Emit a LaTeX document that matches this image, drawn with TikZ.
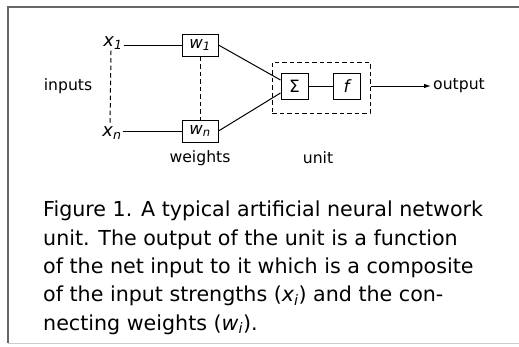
\documentclass[tikz,border=0pt]{standalone}
\usepackage{fontspec}
\setmainfont{DejaVu Sans}
\usetikzlibrary{arrows.meta}
\begin{document}
\begin{tikzpicture}[x=1bp,y=-1bp,
  lbl/.style={inner sep=0pt,font=\fontsize{15.7}{18}\selectfont},
  var/.style={inner sep=1pt,font=\fontsize{18}{20}\selectfont\itshape},
  wbox/.style={draw,line width=1bp,minimum width=36bp,minimum height=22bp,inner sep=0pt,font=\fontsize{16.5}{18}\selectfont\itshape},
  ubox/.style={draw,line width=1bp,minimum width=27bp,minimum height=26bp,inner sep=0pt,font=\fontsize{17}{18}\selectfont},
  conn/.style={line width=1bp},
  dline/.style={line width=1bp,dash pattern=on 4.5bp off 3bp},
  captxt/.style={anchor=base west,inner sep=0pt,font=\fontsize{20.7}{24}\selectfont},
  framestyle/.style={line width=1.8bp,draw=black!60}]
\useasboundingbox (0,0) rectangle (519,346);
% frame
\draw[framestyle] (519,7) -- (8,7) -- (8,343);
\draw[line width=1bp,draw=black!20] (8,343) -- (519,343);
% inputs
\node[var] (x1) at (113,43) {x\textsubscript{1}};
\node[var] (xn) at (112,133) {x\textsubscript{n}};
\node[lbl] (inputs) at (68,86) {inputs};
% weights
\node[wbox] (w1) at (200,45) {w\textsubscript{1}};
\node[wbox] (wn) at (200,131) {w\textsubscript{n}};
\node[lbl] (weights) at (200,158) {weights};
% unit
\node[draw,dline,minimum width=98bp,minimum height=51bp,inner sep=0pt] (unit) at (321,87.5) {};
\node[ubox] (sigma) at (294.5,86) {Σ};
\node[ubox,font=\fontsize{17}{18}\selectfont\itshape] (f) at (346.5,86) {f};
\node[lbl] (unitlbl) at (318,158) {unit};
\node[lbl,anchor=west] (output) at (433,86) {output};
% connectors
\draw[conn] (x1.east |- w1) -- (w1.west);
\draw[conn] (xn.east |- wn) -- (wn.west);
\draw[dline] ([xshift=-2bp]x1.south) -- ([xshift=-2bp]xn.north);
\draw[dline] (w1.south) -- (wn.north);
\draw[conn] (w1.east) -- ([yshift=6bp]sigma.west);
\draw[conn] (wn.east) -- ([yshift=-7bp]sigma.west);
\draw[conn] (sigma) -- (f);
\draw[conn,-{Latex[length=7bp,width=4.5bp]},shorten >=2bp] (unit.east |- sigma) -- (output.west);
% caption
\node[captxt] (c1) at (43,216.5) {Figure 1. A typical artificial neural network};
\node[captxt] (c2) at (43,245) {unit. The output of the unit is a function};
\node[captxt] (c3) at (43,273.3) {of the net input to it which is a composite};
\node[captxt] (c4) at (43,301.6) {of the input strengths (\textit{x\textsubscript{i}}) and the con-};
\node[captxt] (c5) at (43,330) {necting weights (\textit{w\textsubscript{i}}).};
\end{tikzpicture}
\end{document}
